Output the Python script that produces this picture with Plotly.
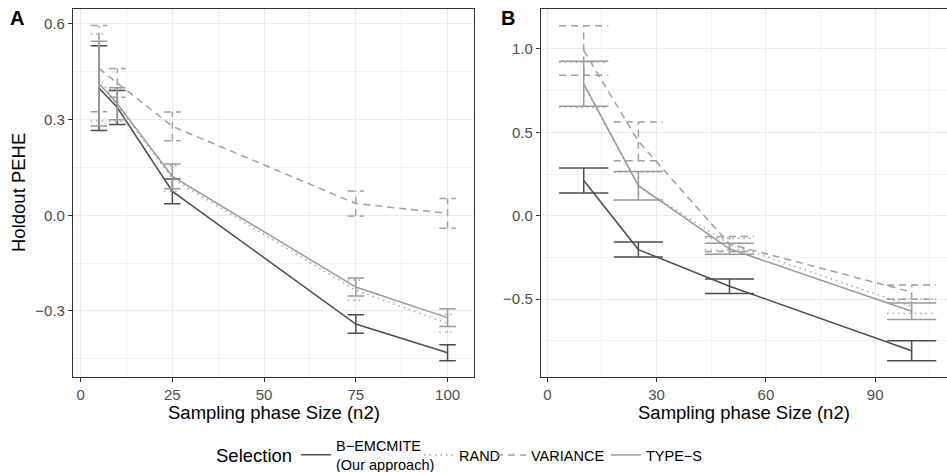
import plotly.graph_objects as go

# panel A: sampling phase sizes and mean holdout PEHE (+/- error half-width)
x_a = [5, 10, 25, 75, 100]
bem_a = [0.399, 0.338, 0.075, -0.341, -0.431]
bem_a_err = [0.133, 0.053, 0.039, 0.029, 0.025]
rand_a = [0.432, 0.345, 0.115, -0.235, -0.339]
rand_a_err = [0.136, 0.050, 0.040, 0.032, 0.028]
var_a = [0.460, 0.415, 0.279, 0.037, 0.006]
var_a_err = [0.135, 0.045, 0.045, 0.039, 0.047]
types_a = [0.413, 0.350, 0.122, -0.225, -0.321]
types_a_err = [0.133, 0.050, 0.039, 0.028, 0.028]

# panel B
x_b = [10, 25, 50, 100]
bem_b = [0.211, -0.203, -0.423, -0.810]
bem_b_err = [0.075, 0.045, 0.043, 0.060]
rand_b = [0.785, 0.178, -0.170, -0.543]
rand_b_err = [0.135, 0.085, 0.035, 0.043]
var_b = [0.991, 0.446, -0.170, -0.458]
var_b_err = [0.149, 0.116, 0.045, 0.043]
types_b = [0.791, 0.180, -0.198, -0.573]
types_b_err = [0.135, 0.085, 0.033, 0.049]

names = ['B\u2212EMCMITE<br>(Our approach)', 'RAND', 'VARIANCE', 'TYPE\u2212S']
colors = ['#4d4d4d', '#a6a6a6', '#a0a0a0', '#9a9a9a']
dashes = ['solid', '1.5px,4px', '7px,5px', 'solid']
legend_ids = ['legend', 'legend2', 'legend3', 'legend4']
legend_key_x = [302, 425, 497, 612]   # where each legend key starts (px)

FONT = 'Liberation Sans, Arial, sans-serif'


def errorbar_path(xs, ys, errs):
    # ggplot-style errorbar: width = 0.9 * resolution of x
    res = min(b - a for a, b in zip(xs[:-1], xs[1:]))
    w = 0.45 * res
    px, py = [], []
    for x, y, e in zip(xs, ys, errs):
        lo, hi = y - e, y + e
        px += [x, x, None, x - w, x + w, None, x - w, x + w, None]
        py += [lo, hi, None, hi, hi, None, lo, lo, None]
    return px, py


fig = go.Figure()

panels = [
    ('x', 'y', x_a, [(bem_a, bem_a_err), (rand_a, rand_a_err),
                     (var_a, var_a_err), (types_a, types_a_err)]),
    ('x2', 'y2', x_b, [(bem_b, bem_b_err), (rand_b, rand_b_err),
                       (var_b, var_b_err), (types_b, types_b_err)]),
]

for xa, ya, xs, series in panels:
    for i, (ys, errs) in enumerate(series):
        ex, ey = errorbar_path(xs, ys, errs)
        fig.add_trace(go.Scatter(x=ex, y=ey, mode='lines', xaxis=xa, yaxis=ya,
                                 line=dict(color=colors[i], width=1.5, dash=dashes[i]),
                                 showlegend=False, hoverinfo='skip'))
        fig.add_trace(go.Scatter(x=xs, y=ys, mode='lines', xaxis=xa, yaxis=ya,
                                 name=names[i], legend=legend_ids[i],
                                 line=dict(color=colors[i], width=1.5, dash=dashes[i]),
                                 showlegend=(xa == 'x')))

axis_common = dict(
    showgrid=True, gridcolor='#ebebeb', gridwidth=1.2,
    zeroline=False, showline=True, linecolor='#333333', linewidth=1,
    ticks='outside', ticklen=4, tickcolor='#333333', tickwidth=1,
    tickfont=dict(family=FONT, size=15, color='#4d4d4d'),
)

fig.update_layout(
    width=947, height=472,
    margin=dict(l=0, r=0, t=0, b=0, autoexpand=False),
    paper_bgcolor='white', plot_bgcolor='white',
    font=dict(family=FONT, color='black'),
    xaxis=dict(domain=[0.077, 0.5005], range=[-2.1, 107.2], tickvals=[0, 25, 50, 75, 100],
               minor=dict(tickvals=[12.5, 37.5, 62.5, 87.5], showgrid=True,
                          gridcolor='#f2f2f2', gridwidth=0.8, ticks=''),
               mirror=True, anchor='y', **axis_common),
    yaxis=dict(domain=[0.202, 0.981], range=[-0.506, 0.647], tickvals=[-0.3, 0, 0.3, 0.6],
               tickformat='.1f',
               minor=dict(tickvals=[-0.45, -0.15, 0.15, 0.45], showgrid=True,
                          gridcolor='#f2f2f2', gridwidth=0.8, ticks=''),
               mirror=True, anchor='x', **axis_common),
    xaxis2=dict(domain=[0.571, 1.0], range=[-1.8, 109.7], tickvals=[0, 30, 60, 90],
                minor=dict(tickvals=[15, 45, 75, 105], showgrid=True,
                           gridcolor='#f2f2f2', gridwidth=0.8, ticks=''),
                mirror=True, anchor='y2', **axis_common),
    yaxis2=dict(domain=[0.202, 0.981], range=[-0.965, 1.24], tickvals=[-0.5, 0, 0.5, 1.0],
                tickformat='.1f',
                minor=dict(tickvals=[-0.75, -0.25, 0.25, 0.75], showgrid=True,
                           gridcolor='#f2f2f2', gridwidth=0.8, ticks=''),
                anchor='x2', **axis_common),
    showlegend=True,
)

for lid, kx in zip(legend_ids, legend_key_x):
    fig.update_layout({lid: dict(orientation='h', x=(kx - 6) / 947, xanchor='left',
                                 y=1 - 455 / 472, yanchor='middle', bgcolor='rgba(0,0,0,0)',
                                 font=dict(family=FONT, size=14.5, color='black'),
                                 itemwidth=30)})

annots = [
    dict(text='<b>A</b>', x=17, y=18, size=20),
    dict(text='<b>B</b>', x=508, y=18, size=20),
    dict(text='Sampling phase Size (n2)', x=273.5, y=412, size=18.5),
    dict(text='Sampling phase Size (n2)', x=744, y=412, size=18.5),
    dict(text='Selection', x=253.5, y=455, size=18.5),
]
for a in annots:
    fig.add_annotation(text=a['text'], x=a['x'] / 947, y=1 - a['y'] / 472,
                       xref='paper', yref='paper', showarrow=False,
                       xanchor='center', yanchor='middle',
                       font=dict(family=FONT, size=a['size'], color='black'))
fig.add_annotation(text='Holdout PEHE', x=18 / 947, y=1 - 193 / 472, xref='paper', yref='paper',
                   showarrow=False, textangle=-90, xanchor='center', yanchor='middle',
                   font=dict(family=FONT, size=18.5, color='black'))

fig.write_html('out.html', config={'displayModeBar': False},
               post_script="document.body.style.margin='0px';")
